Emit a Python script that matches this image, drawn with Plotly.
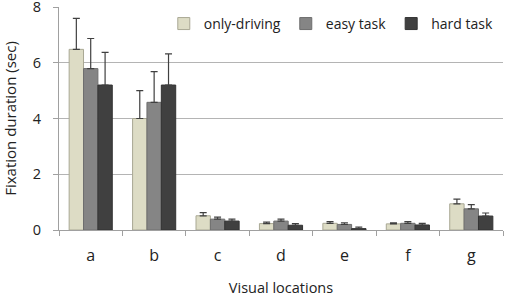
import plotly.graph_objects as go

categories = ["a", "b", "c", "d", "e", "f", "g"]
series_names = ["only-driving", "easy task", "hard task"]
only_driving = [6.48, 4.00, 0.51, 0.23, 0.24, 0.22, 0.94]
only_driving_err = [1.11, 1.00, 0.11, 0.05, 0.06, 0.04, 0.17]
easy_task = [5.79, 4.58, 0.39, 0.32, 0.20, 0.24, 0.76]
easy_task_err = [1.08, 1.10, 0.07, 0.07, 0.06, 0.06, 0.15]
hard_task = [5.20, 5.20, 0.32, 0.17, 0.05, 0.18, 0.50]
hard_task_err = [1.17, 1.12, 0.07, 0.06, 0.05, 0.06, 0.11]
y_ticks = [0, 2, 4, 6, 8]

fills = ["#DDDCC5", "#858585", "#404040"]
edges = ["#A9A894", "#6E6E6E", "#333333"]

fig = go.Figure()
for name, vals, errs, fc, ec in zip(series_names,
                                    [only_driving, easy_task, hard_task],
                                    [only_driving_err, easy_task_err, hard_task_err],
                                    fills, edges):
    fig.add_trace(go.Bar(
        x=categories, y=vals, name=name,
        marker=dict(color=fc, line=dict(color=ec, width=1)),
        error_y=dict(type="data", array=errs, arrayminus=[0]*len(errs),
                     symmetric=False, color="#404040", thickness=1.2, width=3.5),
    ))

font_family = "Open Sans, Noto Sans, sans-serif"
fig.update_layout(
    width=511, height=300,
    margin=dict(l=59, r=8, t=7, b=70, autoexpand=False),
    paper_bgcolor="white", plot_bgcolor="white",
    barmode="group", bargap=0.32, bargroupgap=0,
    font=dict(family=font_family, size=14, color="#222222"),
    legend=dict(orientation="h", x=0.236, y=0.924, xanchor="left", yanchor="middle",
                bgcolor="rgba(0,0,0,0)", font=dict(size=14, color="#222222"),
                itemwidth=30, tracegroupgap=0),
    xaxis=dict(
        type="category", tickson="boundaries", ticks="outside", ticklen=5,
        tickcolor="#A0A0A0", showline=True, linecolor="#A0A0A0", linewidth=1,
        showgrid=False, tickfont=dict(size=16, color="#222222"),
        ticklabelstandoff=11, automargin=False, ticklabeloverflow="allow",
        title=dict(text="Visual locations", font=dict(size=14.5, color="#222222"), standoff=17),
    ),
    yaxis=dict(
        range=[0, 8], tickvals=y_ticks, ticks="outside", ticklen=5,
        tickcolor="#A0A0A0", showline=True, linecolor="#A0A0A0", linewidth=1,
        showgrid=True, gridcolor="#B4B4B4", gridwidth=1, zeroline=False,
        tickfont=dict(size=14.5, color="#222222"), ticklabelstandoff=9, automargin=False,
        ticklabeloverflow="allow",
        title=dict(text="Fixation duration (sec)", font=dict(size=15, color="#222222"), standoff=20),
    ),
)

fig.write_html("out.html")
